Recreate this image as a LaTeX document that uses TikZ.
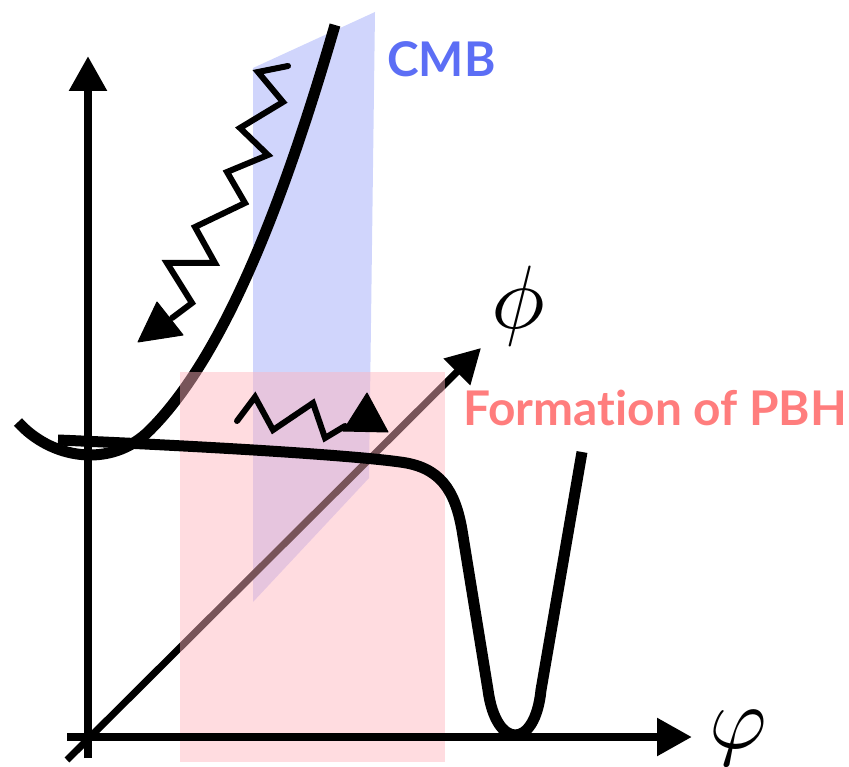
\documentclass[tikz,border=0pt]{standalone}
\usepackage{graphicx}
\usepackage{fontspec}
\setsansfont[Ligatures=NoCommon]{Lato}
\usetikzlibrary{arrows.meta}
\definecolor{cmbblue}{RGB}{208,213,252}
\definecolor{cmbtext}{RGB}{92,110,245}
\definecolor{pbhpink}{RGB}{255,180,190}
\definecolor{pbhtext}{RGB}{255,125,125}
\tikzset{
  axis/.style={line width=8.5pt, -{Triangle[length=35pt,width=36pt]}},
  pot/.style={line width=11pt, line cap=butt, line join=round},
  zig/.style={line width=6pt, line join=miter, line cap=round},
  tip/.style={fill=black, draw=black, line width=1pt, line join=round},
  lbl/.style={font=\sffamily\bfseries\fontsize{47.8}{48}\selectfont, inner sep=0pt, anchor=base west},
}
\begin{document}
\begin{tikzpicture}[x=1pt,y=-1pt]
\useasboundingbox (0,0) rectangle (849,767);
% CMB band
\fill[cmbblue] (253,68) -- (375,12) -- (369,478) -- (253,602) -- cycle;
% diagonal axis (under pink)
\coordinate (d0) at (67,760);
\coordinate (d1) at (481,348);
\draw[line width=7pt, -{Triangle[length=34pt,width=36pt]}] (d0) -- (d1);
% upper potential curve
\draw[pot] (18,422) .. controls (50,458) and (110,470) .. (150,430)
  .. controls (230,350) and (290,180) .. (335,25);
% PBH band
\fill[pbhpink, fill opacity=0.47] (180,372) rectangle (445,762);
% vertical and horizontal axes
\coordinate (v0) at (88,758);
\coordinate (v1) at (88,56);
\coordinate (h0) at (67,737);
\coordinate (h1) at (692,737);
\draw[axis] (v0) -- (v1);
\draw[axis] (h0) -- (h1);
% lower potential
\draw[pot] (58,440) .. controls (200,446) and (350,455) .. (400,462)
  .. controls (440,467) and (455,490) .. (462,530) -- (488,690)
  .. controls (496,750) and (535,750) .. (541,690) -- (582,452);
% upper zigzag arrow
\draw[zig] (288,66) -- (258,72) -- (283,102) -- (240,128) -- (268,155) -- (227,172)
  -- (245,203) -- (195,227) -- (215,263) -- (167,263) -- (192,303) -- (172,318);
\fill[tip] (138,342) -- (157,302) -- (183,335) -- cycle;
% middle zigzag arrow
\draw[zig] (237,421) -- (255,397) -- (273,430) -- (313,403) -- (325,438) -- (345,426);
\fill[tip] (343,431) -- (367,393) -- (388,432) -- cycle;
% labels
\node[lbl, text=cmbtext] (cmb) at (387,77) {CMB};
\node[lbl, text=pbhtext] (pbh) at (463,425) {Forma\kern0pt tion of PBH};
\node[inner sep=0pt] (phi) at (518,306) {\scalebox{9}{$\phi$}};
\node[inner sep=0pt, anchor=base] (vphi) at (738,748) {\scalebox{8.8}{$\varphi$}};
\end{tikzpicture}
\end{document}
